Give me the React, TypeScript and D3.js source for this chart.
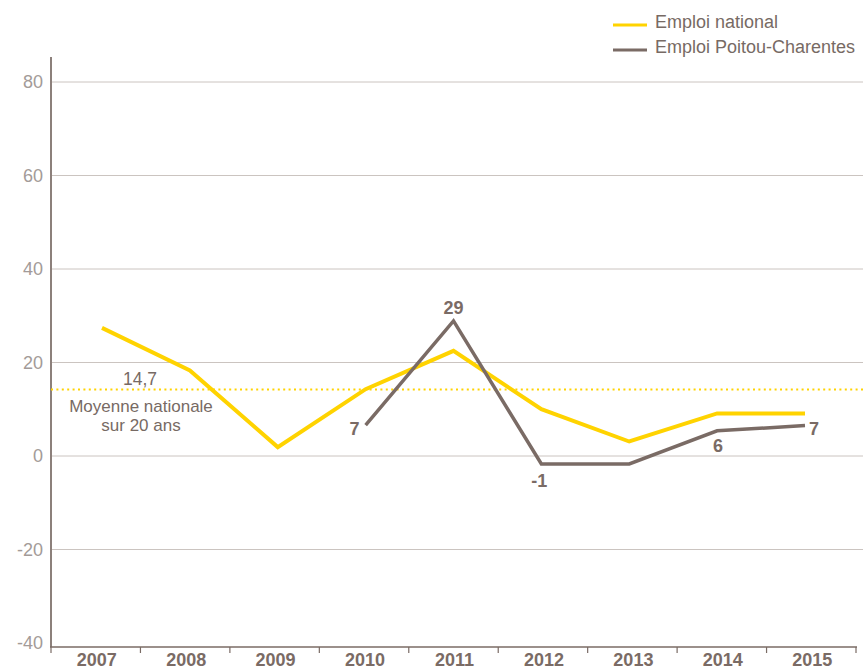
import React from "react";
import * as d3 from "d3";

const years = ["2007", "2008", "2009", "2010", "2011", "2012", "2013", "2014", "2015"];
const national = [27.4, 18.3, 1.9, 14.3, 22.5, 10.0, 3.1, 9.1, 9.1];
const poitouYears = ["2010", "2011", "2012", "2013", "2014", "2015"];
const poitou = [6.6, 28.9, -1.7, -1.7, 5.4, 6.5];
const poitouLabels = ["7", "29", "-1", "", "6", "7"];
const yTicks = [-40, -20, 0, 20, 40, 60, 80];
const average = 14.2;
const averageLabel = "14,7";

const W = 863;
const H = 670;
const YELLOW = "#FFD300";
const BROWN = "#7a6b65";
const TEXT = "#776a64";
const FONT = "'Liberation Sans', Arial, sans-serif";

export default function App() {
  const y = d3.scaleLinear().domain([-40, 80]).range([643, 82]);
  const band = d3.scaleBand().domain(years).range([51, 856]);
  const xp = d3.scalePoint().domain(years).range([102, 805]);
  const line = d3
    .line<[string, number]>()
    .x((d) => xp(d[0]) as number)
    .y((d) => y(d[1]));
  const natData: [string, number][] = years.map((yr, i) => [yr, national[i]]);
  const poiData: [string, number][] = poitouYears.map((yr, i) => [yr, poitou[i]]);
  const labelOffsets: Record<string, [number, number]> = {
    "2010": [-11, 10],
    "2011": [0, -7],
    "2012": [-2, 23],
    "2013": [0, 0],
    "2014": [1, 21],
    "2015": [9, 9],
  };
  return (
    <svg
      width={W}
      height={H}
      style={{ position: "absolute", left: 0, top: 0 }}
      fontFamily={FONT}
    >
      {yTicks.map((t) => (
        <g key={t}>
          {t > -40 && (
            <line x1={51} x2={863} y1={y(t)} y2={y(t)} stroke="#cbc4c0" strokeWidth={1} />
          )}
          <text
            x={43}
            y={y(t)}
            dy="0.35em"
            textAnchor="end"
            fontSize={18}
            fill="#a39b98"
          >
            {t}
          </text>
        </g>
      ))}
      <line x1={51} x2={51} y1={57} y2={647} stroke="#8c807b" strokeWidth={2} />
      <line x1={50} x2={857} y1={647} y2={647} stroke={BROWN} strokeWidth={1.5} />
      {years.map((yr) => (
        <line
          key={"t" + yr}
          x1={band(yr) as number}
          x2={band(yr) as number}
          y1={647}
          y2={653}
          stroke={BROWN}
          strokeWidth={1.2}
        />
      ))}
      <line x1={856} x2={856} y1={647} y2={653} stroke={BROWN} strokeWidth={1.2} />
      {years.map((yr) => (
        <text
          key={"l" + yr}
          x={(band(yr) as number) + band.bandwidth() / 2 + 1}
          y={666}
          textAnchor="middle"
          fontSize={18}
          fontWeight="bold"
          fill={BROWN}
        >
          {yr}
        </text>
      ))}
      <line
        x1={51}
        x2={863}
        y1={y(average)}
        y2={y(average)}
        stroke={YELLOW}
        strokeWidth={2}
        strokeDasharray="2 3.4"
      />
      <text x={140} y={385} textAnchor="middle" fontSize={17.5} fill={TEXT}>
        {averageLabel}
      </text>
      <text x={141} y={412} textAnchor="middle" fontSize={17} fill={TEXT}>
        Moyenne nationale
      </text>
      <text x={141} y={431} textAnchor="middle" fontSize={17} fill={TEXT}>
        sur 20 ans
      </text>
      <path d={line(natData) || ""} fill="none" stroke={YELLOW} strokeWidth={4} strokeLinejoin="miter" />
      <path d={line(poiData) || ""} fill="none" stroke={BROWN} strokeWidth={3.5} strokeLinejoin="miter" />
      {poiData.map((d, i) =>
        poitouLabels[i] ? (
          <text
            key={"p" + d[0]}
            x={(xp(d[0]) as number) + labelOffsets[d[0]][0]}
            y={y(d[1]) + labelOffsets[d[0]][1]}
            textAnchor="middle"
            fontSize={18}
            fontWeight="bold"
            fill={BROWN}
          >
            {poitouLabels[i]}
          </text>
        ) : null
      )}
      <line x1={613} x2={647} y1={25} y2={25} stroke={YELLOW} strokeWidth={3} />
      <text x={655} y={28} fontSize={18} fill={TEXT}>
        Emploi national
      </text>
      <line x1={613} x2={647} y1={50} y2={50} stroke={BROWN} strokeWidth={3} />
      <text x={655} y={53} fontSize={18} fill={TEXT}>
        Emploi Poitou-Charentes
      </text>
    </svg>
  );
}
